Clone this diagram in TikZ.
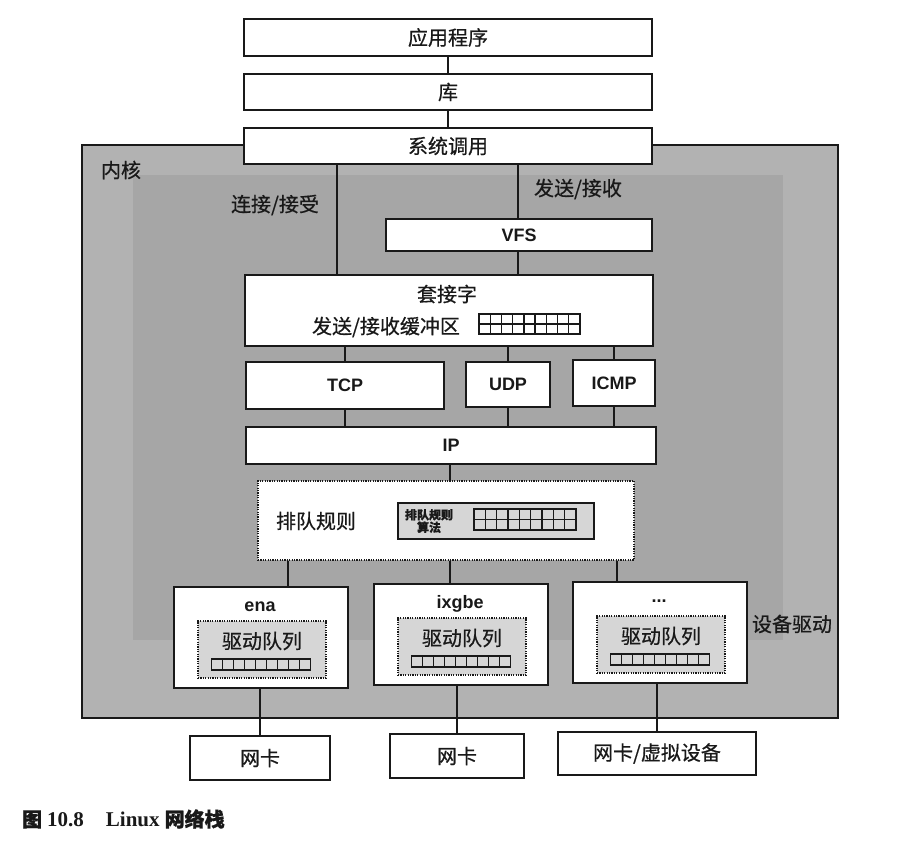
\documentclass[tikz,border=0pt]{standalone}
\usepackage{fontspec}
\setmainfont{Noto Sans CJK SC}[FakeBold=0.6]
\newfontfamily\latsans{Liberation Sans}
\newfontfamily\latserif{Liberation Serif}
\definecolor{kgray}{gray}{0.70}
\definecolor{kdark}{gray}{0.65}
\definecolor{lgray}{gray}{0.84}
\definecolor{ink}{gray}{0.1}
\newcommand\threedotslbl{...}
\newcommand\cellgrid[6]{%
  \draw[gridline] (#1,#2) rectangle (#3,#4);
  \foreach \ci in {1,2,3,4,5,6,7,8} {\pgfmathsetmacro\gcx{(#1)+((#3)-(#1))*\ci/#5}\draw[gridline] (\gcx,#2) -- (\gcx,#4);}
  \ifnum#6>1 \pgfmathsetmacro\gcy{((#2)+(#4))/2}\draw[gridline] (#1,\gcy) -- (#3,\gcy);\fi}
\begin{document}
\begin{tikzpicture}[x=1pt,y=-1pt,
  box/.style={draw=ink,line width=1.3pt,fill=white,inner sep=0pt,text=ink,font=\fontsize{20}{24}\selectfont},
  bbox/.style={box,font=\latsans\bfseries\fontsize{18}{20}\selectfont},
  qbox/.style={draw=ink,line width=1.3pt,dash pattern=on 1.2pt off 1.2pt,fill=white,inner sep=0pt},
  ibox/.style={draw=ink,line width=1.3pt,dash pattern=on 1.2pt off 1.2pt,fill=lgray,inner sep=0pt},
  abox/.style={draw=ink,line width=1.3pt,fill=lgray,inner sep=0pt},
  conn/.style={draw=ink,line width=1.4pt},
  gridline/.style={draw=ink,line width=1.3pt},
  lbl/.style={inner sep=0pt,text=ink,font=\fontsize{20}{24}\selectfont},
  blbl/.style={inner sep=0pt,text=ink,font=\latsans\bfseries\fontsize{18}{20}\selectfont}]
\useasboundingbox (0,0) rectangle (901,850);
\fill[white] (0,0) rectangle (901,850);

% kernel area
\node[draw=ink,line width=1.2pt,fill=kgray,minimum width=756pt,minimum height=573pt,inner sep=0pt] (kernel) at (460,431.5) {};
\fill[kdark] (133,175) rectangle (783,640);
\node[lbl] (lkern) at (121,170) {内核};

% user space stack
\node[box,minimum width=408pt,minimum height=37pt] (app) at (448,37.5) {应用程序};
\node[box,minimum width=408pt,minimum height=36pt] (lib) at (448,92) {库};
\node[box,minimum width=408pt,minimum height=36pt] (sys) at (448,146) {系统调用};

\node[bbox,minimum width=266pt,minimum height=32pt] (vfs) at (519,235) {VFS};
\node[box,minimum width=408pt,minimum height=71pt] (sock) at (449,310.5) {};
\node[lbl] (lsock) at (447,294) {套接字};
\node[lbl] (lbuf) at (386,327) {发送/接收缓冲区};
\cellgrid{479}{314}{580}{334}{9}{2}

\node[bbox,minimum width=198pt,minimum height=47pt] (tcp) at (345,385.5) {TCP};
\node[bbox,minimum width=84pt,minimum height=45pt] (udp) at (508,384.5) {UDP};
\node[bbox,minimum width=82pt,minimum height=46pt] (icmp) at (614,383) {ICMP};
\node[bbox,minimum width=410pt,minimum height=37pt] (ip) at (451,445.5) {IP};

\node[qbox,minimum width=376pt,minimum height=79pt] (qdisc) at (446,520.5) {};
\node[lbl] (lqdisc) at (316,521) {排队规则};
\node[abox,minimum width=196pt,minimum height=36pt] (alg) at (496,521) {};
\node[inner sep=0pt,text=ink,align=center,font=\bfseries\fontsize{12}{12.5}\selectfont] (lalg) at (429,521) {排队规则\\算法};
\cellgrid{474}{509}{576}{530}{9}{2}

% drivers
\foreach \dn/\dx/\dy/\dt in {d1/261/637.5/ena, d2/461/634.5/ixgbe, d3/660/632.5/\threedotslbl}{
  \node[box,minimum width=174pt,minimum height=101pt] (\dn) at (\dx,\dy) {};
  \node[blbl] (\dn-t) at (\dx-1,\dy-31) {\dt};
  \node[ibox,minimum width=128pt,minimum height=57pt] (\dn-q) at (\dx+1,\dy+12) {};
  \node[lbl] (\dn-l) at (\dx+1,\dy+3.5) {驱动队列};
  \cellgrid{\dx-49.5}{\dy+21.5}{\dx+49.5}{\dy+32.5}{9}{1}
}
\node[lbl] (ldrv) at (792,624) {设备驱动};

% NICs
\node[box,minimum width=140pt,minimum height=44pt] (n1) at (260,758) {网卡};
\node[box,minimum width=134pt,minimum height=44pt] (n2) at (457,756) {网卡};
\node[box,minimum width=198pt,minimum height=43pt] (n3) at (657,753.5) {网卡/虚拟设备};

% labels on connectors
\node[lbl] (lconn) at (275,205) {连接/接受};
\node[lbl] (lsend) at (578,189) {发送/接收};

% connectors
\coordinate (xa) at (337,0);
\coordinate (xb) at (518,0);
\coordinate (xq) at (450,0);
\coordinate (x1) at (288,0);
\coordinate (x2) at (450,0);
\coordinate (x3) at (617,0);
\draw[conn] (app) -- (lib);
\draw[conn] (lib) -- (sys);
\draw[conn] (sys.south -| xa) -- (sock.north -| xa);
\draw[conn] (sys.south -| xb) -- (vfs.north -| xb);
\draw[conn] (vfs.south -| xb) -- (sock.north -| xb);
\draw[conn] (sock.south -| tcp) -- (tcp.north);
\draw[conn] (sock.south -| udp) -- (udp.north);
\draw[conn] (sock.south -| icmp) -- (icmp.north);
\draw[conn] (tcp.south) -- (ip.north -| tcp);
\draw[conn] (udp.south) -- (ip.north -| udp);
\draw[conn] (icmp.south) -- (ip.north -| icmp);
\draw[conn] (ip.south -| xq) -- (qdisc.north -| xq);
\draw[conn] (qdisc.south -| x1) -- (d1.north -| x1);
\draw[conn] (qdisc.south -| x2) -- (d2.north -| x2);
\draw[conn] (qdisc.south -| x3) -- (d3.north -| x3);
\draw[conn] (d1.south -| n1) -- (n1.north);
\draw[conn] (d2.south -| n2) -- (n2.north);
\draw[conn] (d3.south -| n3) -- (n3.north);

% caption
\node[anchor=west,inner sep=0pt,text=ink] (cap) at (22,819)
  {{\bfseries\fontsize{20}{22}\selectfont 图}\hspace{5pt}{\latserif\bfseries\fontsize{21}{22}\selectfont 10.8\hspace{22pt}Linux}\hspace{5pt}{\bfseries\fontsize{20}{22}\selectfont 网络栈}};
\end{tikzpicture}
\end{document}
